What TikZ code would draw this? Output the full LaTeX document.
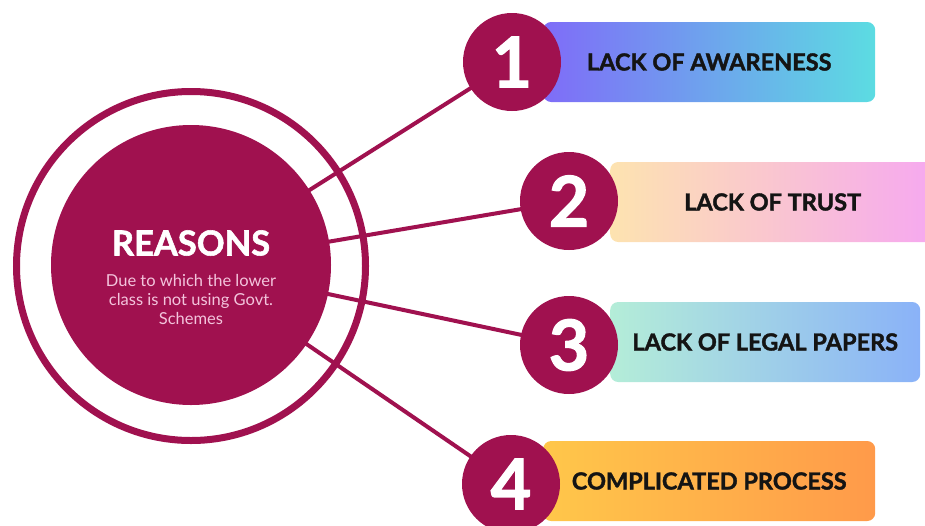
\documentclass[tikz,border=0pt]{standalone}
\usepackage{fontspec}
\setmainfont{Lato}
\newfontfamily\heavy{Lato}[UprightFont=*-Bold,UprightFeatures={FakeBold=1.6}]
\usetikzlibrary{backgrounds}
\definecolor{plum}{HTML}{A0114F}
\definecolor{pinktext}{HTML}{F3C4DC}
\tikzset{
  ring/.style={circle,draw=plum,line width=7pt,minimum size=349pt,inner sep=0pt},
  disc/.style={circle,fill=plum,minimum size=280pt,inner sep=0pt},
  num/.style={circle,fill=plum,minimum size=98pt,inner sep=0pt,text=white,
              font=\fontsize{70}{70}\selectfont\heavy},
  bar/.style={rounded corners=8pt,anchor=west,minimum height=80pt,inner sep=0pt,
              font=\fontsize{23.5}{25}\selectfont\heavy,text=black!92},
  spoke/.style={draw=plum,line width=4pt},
}

\begin{document}
\begin{tikzpicture}[x=1pt,y=-1pt]
  \useasboundingbox (0,0) rectangle (925,525);
  % centre
  \node[ring] (ring) at (191,266) {};
  \node[disc] (reasons) at (191,265) {};
  \node[text=white,font=\fontsize{34.5}{36}\selectfont\heavy] (title) at (191,243) {REASONS};
  \node[text=pinktext,align=center,font=\fontsize{16.5}{19}\selectfont] (sub) at (191,299)
    {Due to which the lower\\class is not using Govt.\\Schemes};
  % bars
  \node[bar,left color={rgb,255:red,127;green,108;blue,248},right color={rgb,255:red,92;green,220;blue,226},
        minimum width=332pt] (b1) at (543,62) {LACK OF AWARENESS};
  \node[bar,left color={rgb,255:red,253;green,227;blue,176},right color={rgb,255:red,246;green,168;blue,240},
        minimum width=325pt] (b2) at (610,202) {LACK OF TRUST};
  \node[bar,left color={rgb,255:red,180;green,237;blue,216},right color={rgb,255:red,138;green,178;blue,248},
        minimum width=310pt] (b3) at (610,342) {LACK OF LEGAL PAPERS};
  \node[bar,left color={rgb,255:red,255;green,199;blue,74},right color={rgb,255:red,255;green,154;blue,74},
        minimum width=332pt] (b4) at (543,481) {COMPLICATED PROCESS};
  % numbers
  \node[num] (n1) at (512,62) {1};
  \node[num] (n2) at (569,201) {2};
  \node[num] (n3) at (569,345) {3};
  \node[num] (n4) at (511,484) {4};
  % spokes
  \begin{scope}[on background layer]
    \foreach \i in {1,...,4}
      \draw[spoke] (reasons.center) -- (n\i.center);
  \end{scope}
\end{tikzpicture}
\end{document}
